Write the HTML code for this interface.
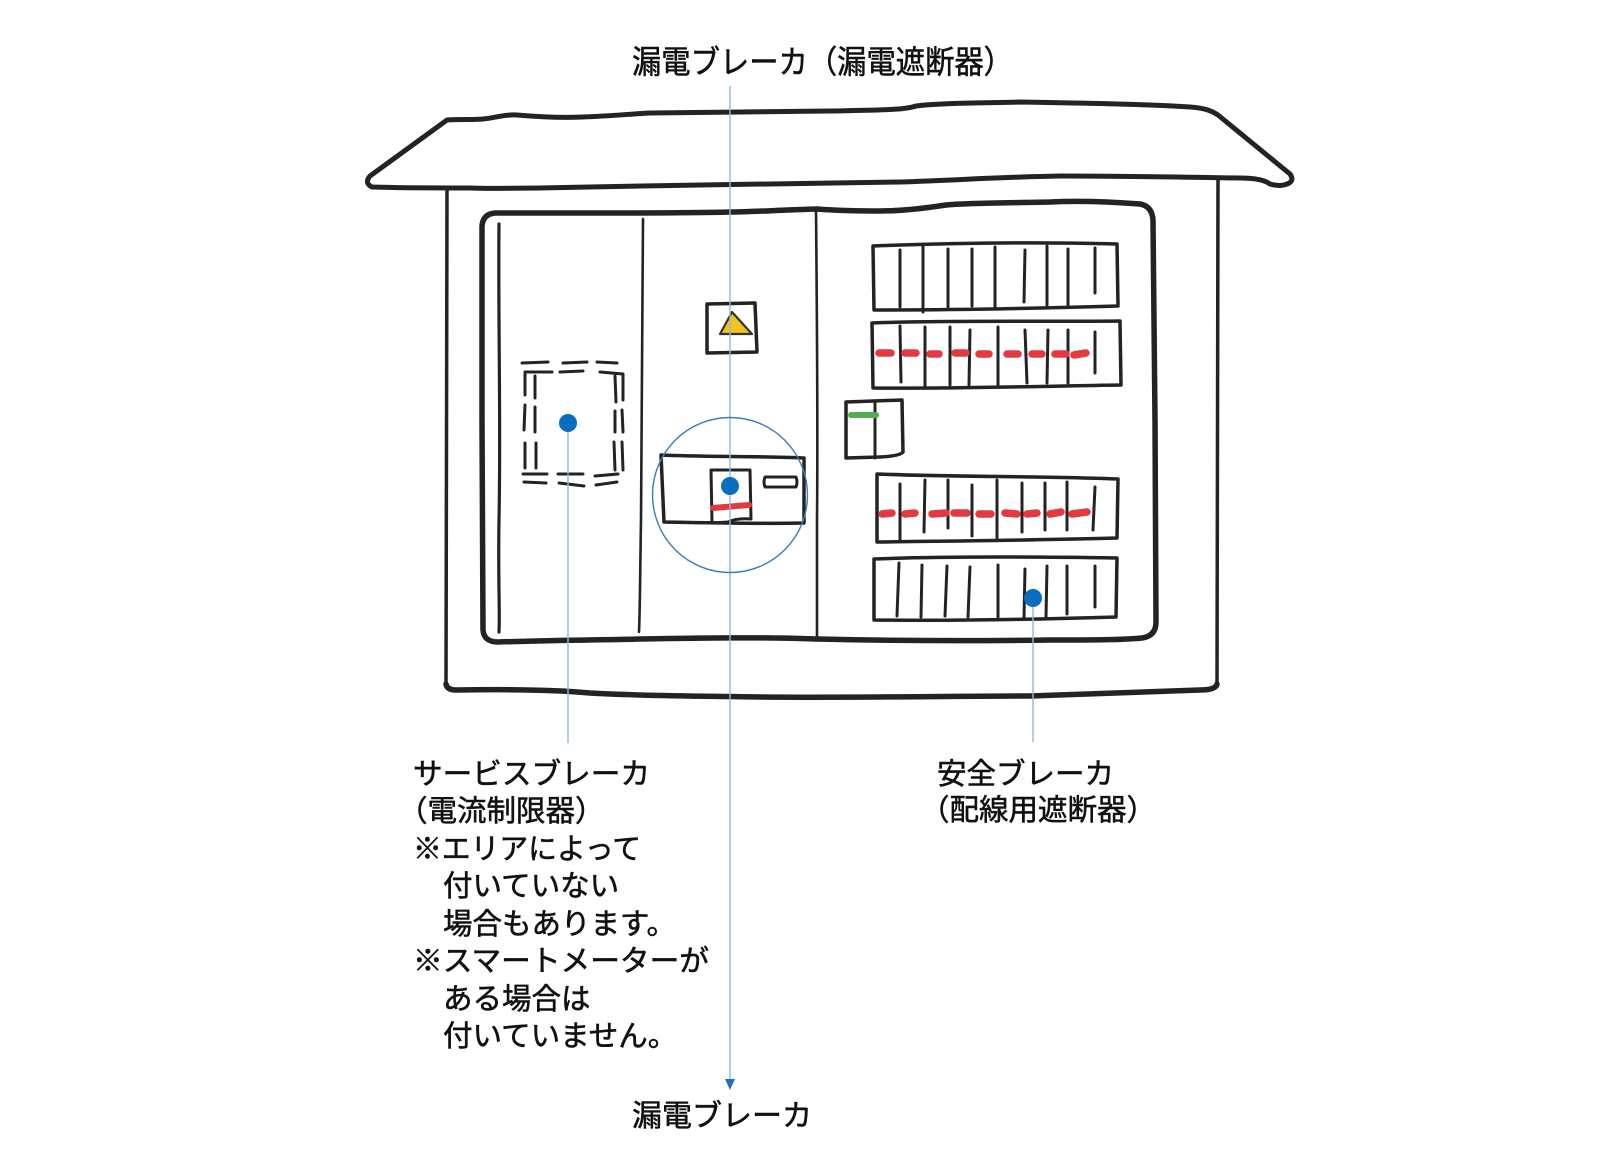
<!DOCTYPE html>
<html><head><meta charset="utf-8"><style>
html,body{margin:0;padding:0;background:#fff;}
svg{display:block;}
text{font-family:"Liberation Sans","Noto Sans CJK JP",sans-serif;fill:#111;stroke:#111;stroke-width:0.55px;}
</style></head><body>
<svg width="1600" height="1168" viewBox="0 0 1600 1168" xmlns="http://www.w3.org/2000/svg">
<rect width="1600" height="1168" fill="#fff"/>
<g fill="none" stroke="#232323" stroke-linecap="round" stroke-linejoin="round">
<!-- roof -->
<path stroke-width="5" d="M447,120 C462,119 472,120 483,119 C495,118 505,114 517,115 C540,117 560,118 583,117 C610,116 630,114 650,113 C700,112 760,112 830,111 C880,110 905,110 916,106 C940,103 980,103 1020,102 C1080,103 1140,104 1190,107 C1205,108 1212,111 1218,115 L1290,174 Q1295,181 1287,184 Q1280,187 1270,184 Q1262,178 1240,178 C1180,177 1120,176 1060,176 C1000,177 960,180 900,182 C820,183 760,184 700,185 C630,186 590,187 540,188 C510,188 490,189 470,188 C430,188 400,188 372,187 Q364,183 370,176 Z"/>
<!-- outer box -->
<path stroke-width="3.5" d="M447,189 L446,686"/>
<path stroke-width="3.5" d="M1218,178 L1217,686"/>
<path stroke-width="5.5" d="M446,684 Q447,690 456,690 C520,689 560,690 590,693 C640,696 700,696 760,697 C850,698 950,696 1030,696 C1100,694 1160,691 1200,690 Q1216,690 1217,684"/>
<!-- inner frame -->
<path stroke-width="5.5" d="M495,213 Q483,214 482,226 L482,420 L483,630 Q484,642 498,642 C560,640 600,640 640,639 C700,638 760,637 817,639 C900,641 980,641 1050,640 C1090,640 1120,640 1142,638 Q1156,636 1156,622 L1155,420 L1153,220 Q1152,206 1140,204 C1100,201 1070,201 1050,202 C1000,203 965,203 946,205 C920,209 900,211 880,211 C850,211 830,210 817,209 C780,210 750,212 730,212 C690,213 650,213 600,213 C560,213 530,213 495,213 Z"/>
<path stroke-width="3.2" d="M499,224 C498,320 501,420 499,520 C498,580 500,610 499,632"/>
<path stroke-width="2.6" d="M643,219 C642,320 641,420 641,520 C640,580 640,610 639,632"/>
<path stroke-width="2.6" d="M816,210 C817,320 818,420 817,520 C817,580 817,610 817,638"/>
<!-- dashed service breaker -->
<g stroke-width="3">
<path d="M522,363 L548,362 M563,363 L587,362 M597,362 L617,363"/>
<path d="M525,372 L552,372 M560,372 L583,371 M600,372 L623,374"/>
<path d="M525,374 L525,395 M525,405 L524,430 M525,443 L525,468"/>
<path d="M535,376 L535,398 M535,407 L535,432 M536,443 L536,468"/>
<path d="M615,376 L616,402 M615,411 L615,432 M614,442 L615,470"/>
<path d="M623,375 L623,400 M622,410 L623,432 M622,442 L623,470"/>
<path d="M523,474 L547,474 M558,474 L583,474 M595,476 L618,474"/>
<path d="M524,482 L546,483 M559,483 L584,486 M596,485 L617,482"/>
</g>
<!-- yellow warning box -->
<path stroke-width="3.5" d="M707,304 L755,303 L757,352 L707,353 Z"/>
<!-- leakage breaker -->
<path stroke-width="3.5" d="M661,455 C700,457 760,456 804,458 L804,523 C760,524 720,523 664,522 Z"/>
<path stroke-width="3" d="M711,470 L750,470 L751,519 C740,518 732,520 728,522 L712,523 Z"/>
<path stroke-width="3" d="M765,477 L796,477 Q798,482 796,487 L765,487 Q763,482 765,477 Z"/>
<!-- breaker rows -->
<g stroke-width="3.5">
<path d="M873,246 C950,243 1040,242 1117,244 L1118,306 C1050,308 950,310 874,310 Z"/>
<path d="M872,323 C950,320 1050,322 1120,321 L1121,385 C1050,386 950,389 873,388 Z"/>
<path d="M877,474 C950,477 1050,476 1118,479 L1117,538 C1050,540 950,541 877,542 Z"/>
<path d="M874,559 C950,556 1050,557 1117,558 L1116,617 C1050,619 950,621 874,620 Z"/>
<path d="M846,402 L902,400 L903,452 Q900,456 880,457 L846,458 Z"/>
</g>
<g stroke-width="3">
<path d="M900,250 L900,307 M923,247 L923,312 M948,249 L948,307 M972,249 L972,306 M995,247 L995,309 M1025,250 L1024,302 M1047,246 L1047,305 M1068,249 L1068,305 M1095,248 L1095,293"/>
<path d="M900,326 L901,382 M925,327 L925,386 M950,327 L950,385 M970,330 L969,385 M998,327 L998,387 M1025,330 L1027,383 M1048,330 L1047,383 M1068,330 L1068,383 M1095,332 L1095,373"/>
<path d="M900,484 L900,540 M925,480 L924,532 M948,480 L948,528 M972,485 L972,536 M997,480 L997,538 M1022,483 L1022,532 M1045,483 L1045,530 M1067,482 L1067,530 M1095,487 L1093,530"/>
<path d="M899,563 L897,616 M922,565 L921,617 M947,566 L945,616 M970,567 L968,617 M998,565 L998,617 M1025,569 L1024,618 M1047,566 L1046,617 M1067,566 L1067,614 M1095,566 L1095,607"/>
<path d="M875,403 L875,458"/>
</g>
</g>
<!-- yellow triangle -->
<path d="M732,312 L720,334 L752,334 Z" fill="#f3c319" stroke="#333" stroke-width="2.2" stroke-linejoin="round"/>
<!-- red marks -->
<g stroke="#e23a40" stroke-width="7.5" stroke-linecap="round" fill="none">
<path d="M879,353 L891,353 M905,353 L916,353 M930,354 L939,354 M955,353 L966,353 M979,354 L989,354 M1007,354 L1018,354 M1032,354 L1042,354 M1055,354 L1066,354 M1074,355 L1086,353"/>
<path d="M882,514 L892,513 M905,514 L915,513 M932,514 L946,513 M954,513 L967,513 M979,514 L991,514 M1005,513 L1017,514 M1027,514 L1037,513 M1050,514 L1061,512 M1072,514 L1087,512"/>
</g>
<path d="M713,508 L749,505" stroke="#e23a40" stroke-width="6" stroke-linecap="round"/>
<path d="M851,415 L876,415" stroke="#4caf50" stroke-width="6" stroke-linecap="round"/>
<!-- leader lines -->
<g stroke="#8bbbe0" stroke-width="1.4" fill="none">
<path d="M730,86 L730,1080"/>
<path d="M568,423 L568,743"/>
<path d="M1033,598 L1033,742"/>
</g>
<circle cx="730" cy="495" r="77.5" fill="none" stroke="#3a7db8" stroke-width="1.4"/>
<path d="M725,1079 L735,1079 L730,1090 Z" fill="#1f72bb"/>
<g fill="#0b6dbf">
<circle cx="568" cy="423" r="9"/>
<circle cx="730" cy="486" r="9"/>
<circle cx="1033" cy="598" r="9"/>
</g>
<!-- labels -->
<text x="632" y="73" font-size="32" textLength="381" lengthAdjust="spacingAndGlyphs">漏電ブレーカ（漏電遮断器）</text>
<text x="632" y="1126" font-size="30" textLength="180" lengthAdjust="spacingAndGlyphs">漏電ブレーカ</text>
<g font-size="29.5">
<text x="413" y="784" textLength="237" lengthAdjust="spacingAndGlyphs">サービスブレーカ</text>
<text x="398" y="821">（電流制限器）</text>
<text x="413" y="859" textLength="228" lengthAdjust="spacingAndGlyphs">※エリアによって</text>
<text x="443" y="896">付いていない</text>
<text x="443" y="934">場合もあります。</text>
<text x="413" y="971" textLength="296" lengthAdjust="spacingAndGlyphs">※スマートメーターが</text>
<text x="443" y="1009">ある場合は</text>
<text x="443" y="1046">付いていません。</text>
<text x="937" y="784" textLength="177" lengthAdjust="spacingAndGlyphs">安全ブレーカ</text>
<text x="920" y="820">（配線用遮断器）</text>
</g>
</svg>
</body></html>
